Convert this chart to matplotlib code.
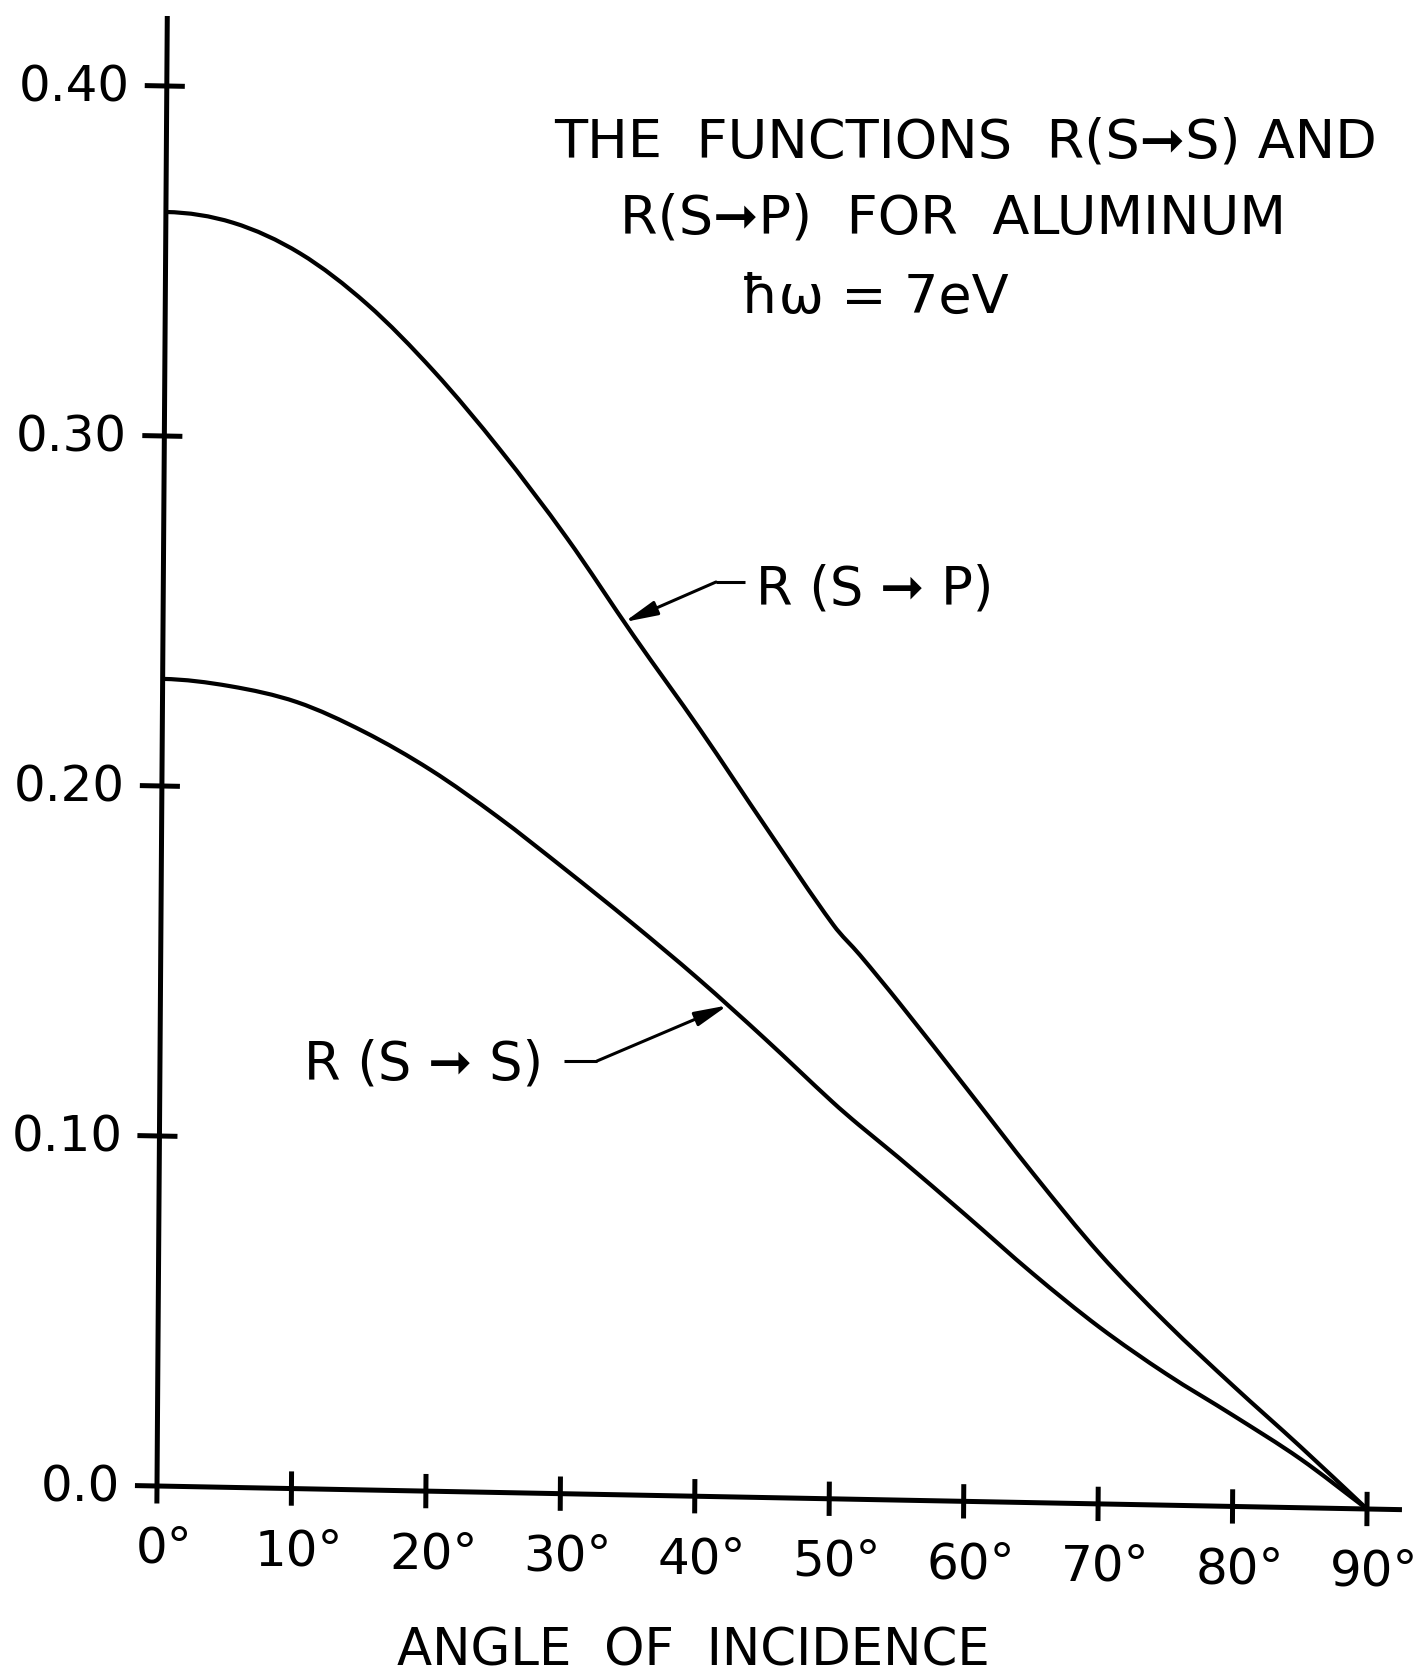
import numpy as np
import matplotlib
matplotlib.use("Agg")
import matplotlib.pyplot as plt
from matplotlib.path import Path
from matplotlib.patches import PathPatch
from matplotlib.transforms import Affine2D, IdentityTransform, offset_copy

# ---- data -------------------------------------------------------------
angles = [0, 5, 10, 15, 20, 25, 30, 35, 40, 45, 50, 52, 55,
          60, 65, 70, 75, 80, 85, 90]
r_s_to_p = [0.3640, 0.3613, 0.3529, 0.3388, 0.3200, 0.2978, 0.2730, 0.2455,
            0.2190, 0.1912, 0.1640, 0.1555, 0.1418, 0.1180, 0.0940, 0.0714,
            0.0520, 0.0344, 0.0175, 0.0]
r_s_to_s = [0.2306, 0.2289, 0.2247, 0.2166, 0.2060, 0.1930, 0.1785, 0.1635,
            0.1478, 0.1310, 0.1135, 0.1070, 0.0978, 0.0818, 0.0655, 0.0505,
            0.0375, 0.0260, 0.0140, 0.0]

x_ticks = [0, 10, 20, 30, 40, 50, 60, 70, 80, 90]
x_tick_labels = ["0", "10", "20", "30", "40", "50", "60", "70", "80", "90"]
y_ticks = [0.0, 0.10, 0.20, 0.30, 0.40]
y_tick_labels = ["0.0", "0.10", "0.20", "0.30", "0.40"]

title_lines = ["THE  FUNCTIONS  R(S➞S) AND",
               "R(S➞P)  FOR  ALUMINUM",
               "ħω = 7eV"]
label_sp = "R (S ➞ P)"
label_ss = "R (S ➞ S)"
x_label = "ANGLE  OF  INCIDENCE"

# ---- figure -----------------------------------------------------------
W, H = 1419, 1674
DPI = 100
plt.rcParams['font.family'] = ['DejaVu Sans']
fig = plt.figure(figsize=(W / DPI, H / DPI), dpi=DPI)
fig.patch.set_facecolor("white")

X0, Y0 = 157, H - 1487          # pixel position of the origin
ax = fig.add_axes([X0 / W, Y0 / H, 1210 / W, 1400 / H])
ax.set_xlim(0, 90)
ax.set_ylim(0, 0.40)
ax.axis("off")

# the hand-drawn frame leans slightly: x-axis drops to the right,
# y-axis leans to the right toward the top
k, m = 0.019, 0.007
shear = Affine2D(np.array([[1.0, m, -m * Y0],
                           [-k, 1.0, k * X0],
                           [0.0, 0.0, 1.0]]))
trans = ax.transData + shear

ink = "black"
axis_lw = 3.6
curve_lw = 3.0

def draw(xs, ys, lw=axis_lw):
    ax.plot(xs, ys, color=ink, lw=lw, transform=trans, clip_on=False,
            solid_capstyle="butt", solid_joinstyle="round")

def smooth_curve(xs, ys, lw=curve_lw):
    """Draw a smooth cubic (Hermite) curve through the given points,
    leaving the axis horizontally at normal incidence."""
    x = np.asarray(xs, float)
    y = np.asarray(ys, float)
    n = len(x)
    slopes = np.empty(n)
    slopes[0] = 0.0
    slopes[-1] = (y[-1] - y[-2]) / (x[-1] - x[-2])
    slopes[1:-1] = (y[2:] - y[:-2]) / (x[2:] - x[:-2])
    verts = [(x[0], y[0])]
    codes = [Path.MOVETO]
    for i in range(n - 1):
        dx = x[i + 1] - x[i]
        verts += [(x[i] + dx / 3, y[i] + slopes[i] * dx / 3),
                  (x[i + 1] - dx / 3, y[i + 1] - slopes[i + 1] * dx / 3),
                  (x[i + 1], y[i + 1])]
        codes += [Path.CURVE4] * 3
    ax.add_patch(PathPatch(Path(verts, codes), fill=False, ec=ink, lw=lw,
                           transform=trans, clip_on=False,
                           joinstyle="round", capstyle="butt"))

# axes lines
draw([0, 0], [-0.005, 0.42])
draw([-1.64, 92.6], [0, 0])
for v in y_ticks[1:]:
    draw([-1.64, 1.34], [v, v])
for d in x_ticks[1:]:
    draw([d, d], [-0.0049, 0.0049])

# curves
smooth_curve(angles, r_s_to_p)
smooth_curve(angles, r_s_to_s)

# tick labels
fs_tick = 36
fs_px = fs_tick * DPI / 72.0
for v, lab in zip(y_ticks, y_tick_labels):
    t = offset_copy(trans, x=-37, y=-15, units="dots")
    ax.text(0, v, lab, transform=t, ha="right", va="baseline",
            fontsize=fs_tick, color=ink, clip_on=False)
for d, lab in zip(x_ticks, x_tick_labels):
    half = len(lab) * 0.636 * fs_px / 2.0
    t = offset_copy(trans, x=-half - 5, y=-76, units="dots")
    ax.text(d, 0, lab + "°", transform=t, ha="left", va="baseline",
            fontsize=fs_tick, color=ink, clip_on=False)

# title block
def ftext(x, y_top, s, size, ha="center"):
    fig.text(x / W, 1 - y_top / H, s, ha=ha, va="baseline",
             fontsize=size, color=ink)

ftext(966, 157, title_lines[0], 39)
ftext(953, 233, title_lines[1], 39)
ftext(875, 313, title_lines[2], 39)

# curve labels with leaders
ftext(756, 605, label_sp, 38, ha="left")
ftext(304, 1080, label_ss, 38, ha="left")
ftext(693, 1666, x_label, 37)

leader_lw = 2.2
ident = IdentityTransform()

def leader(p_end, p_elbow, tip_deg, series):
    xe, ye = p_end
    xb, yb = p_elbow
    ax.plot([xe, xb], [H - ye, H - yb], color=ink, lw=leader_lw,
            transform=ident, clip_on=False, solid_capstyle="butt")
    tip_val = float(np.interp(tip_deg, angles, series))
    ax.annotate("", xy=(tip_deg, tip_val), xycoords=trans,
                xytext=(xb, H - yb), textcoords="figure pixels",
                arrowprops=dict(arrowstyle="-|>,head_length=1.0,head_width=0.22",
                                mutation_scale=20, lw=leader_lw, color=ink,
                                shrinkA=0, shrinkB=0))

leader((745, 583), (716, 583), 34.3, r_s_to_p)
leader((564, 1062), (597, 1062), 42.2, r_s_to_s)

fig.savefig("out.png", dpi=DPI, facecolor="white")
